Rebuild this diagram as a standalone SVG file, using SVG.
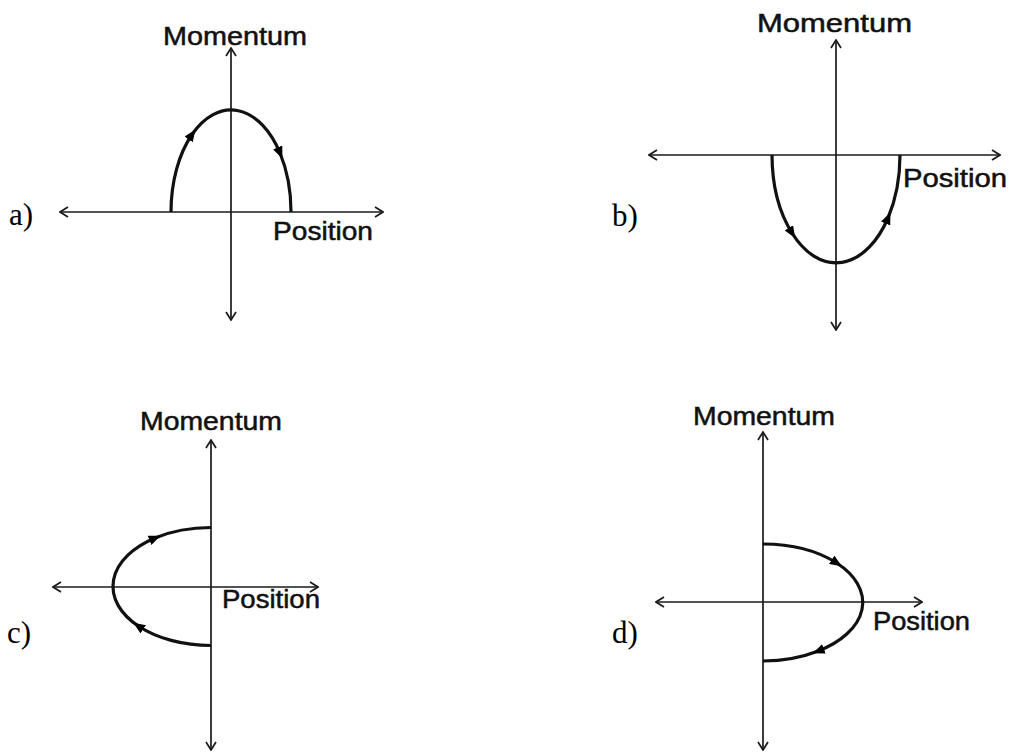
<svg xmlns="http://www.w3.org/2000/svg" width="1014" height="753" viewBox="0 0 1014 753">
<style>
.ax{stroke:#1a1a1a;stroke-width:1.7;fill:none;marker-start:url(#open);marker-end:url(#open)}
.cv{stroke:#111;stroke-width:3.2;fill:none;marker-mid:url(#fill)}
.lbl{font-family:"Liberation Sans",Arial,sans-serif;font-size:25px;fill:#111;stroke:#111;stroke-width:0.5}
.tag{font-family:"Liberation Serif","Times New Roman",serif;font-size:31px;fill:#000}
</style>
<defs>
<marker id="open" viewBox="0 0 10 12" refX="9" refY="6" markerWidth="10" markerHeight="12" markerUnits="userSpaceOnUse" orient="auto-start-reverse">
<path d="M1,1 L9,6 L1,11" fill="none" stroke="#1a1a1a" stroke-width="1.7"/>
</marker>
<marker id="fill" viewBox="0 0 12 10" refX="6" refY="5" markerWidth="12" markerHeight="10" markerUnits="userSpaceOnUse" orient="auto">
<path d="M0,0 L12,5 L0,10 z" fill="#000"/>
</marker>
</defs>
<rect width="1014" height="753" fill="#fff"/>
<g id="connectors">
<line class="ax" x1="231" y1="320" x2="231" y2="48"/>
<line class="ax" x1="60" y1="212" x2="383" y2="212"/>
<line class="ax" x1="836" y1="330" x2="836" y2="40"/>
<line class="ax" x1="649" y1="155" x2="1000" y2="155"/>
<line class="ax" x1="211" y1="750" x2="211" y2="440"/>
<line class="ax" x1="53" y1="587" x2="318" y2="587"/>
<line class="ax" x1="763" y1="750" x2="763" y2="432"/>
<line class="ax" x1="656" y1="602" x2="922" y2="602"/>
</g>
<g id="panel-a">
<path class="cv" d="M171,212 A60,102 0 0 1 192,134.5 A60,102 0 0 1 280,153 A60,102 0 0 1 291,212"/>
<text class="lbl" x="163" y="45" textLength="144" lengthAdjust="spacingAndGlyphs">Momentum</text>
<text class="lbl" x="273" y="240" textLength="100" lengthAdjust="spacingAndGlyphs">Position</text>
<text class="tag" x="9" y="225">a)</text>
</g>
<g id="panel-b">
<path class="cv" d="M772,155 A64,108 0 0 0 792,233 A64,108 0 0 0 888,218 A64,108 0 0 0 900,155"/>
<text class="lbl" x="757" y="32" textLength="155" lengthAdjust="spacingAndGlyphs">Momentum</text>
<text class="lbl" x="903" y="187" textLength="104" lengthAdjust="spacingAndGlyphs">Position</text>
<text class="tag" x="612" y="226">b)</text>
</g>
<g id="panel-c">
<path class="cv" d="M211,645.5 A98,59 0 0 1 138.3,626 A98,59 0 0 1 155,538 A98,59 0 0 1 211,527.5"/>
<text class="lbl" x="140" y="430" textLength="142" lengthAdjust="spacingAndGlyphs">Momentum</text>
<text class="lbl" x="222" y="608" textLength="98" lengthAdjust="spacingAndGlyphs">Position</text>
<text class="tag" x="7" y="643">c)</text>
</g>
<g id="panel-d">
<path class="cv" d="M763,544 A100,58.5 0 0 1 836.7,563 A100,58.5 0 0 1 818.3,651 A100,58.5 0 0 1 763,661"/>
<text class="lbl" x="693" y="425" textLength="142" lengthAdjust="spacingAndGlyphs">Momentum</text>
<text class="lbl" x="873" y="630" textLength="97" lengthAdjust="spacingAndGlyphs">Position</text>
<text class="tag" x="612" y="643">d)</text>
</g>
</svg>
